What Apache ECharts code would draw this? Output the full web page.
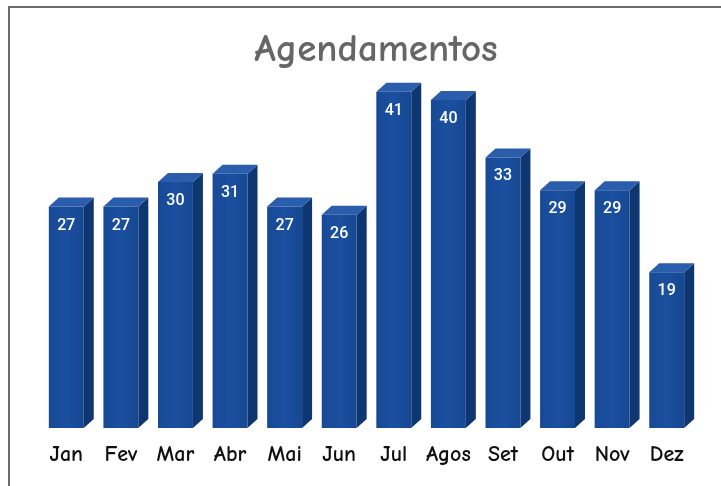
<!DOCTYPE html>
<html>
<head>
<meta charset="utf-8">
<script src="https://cdn.jsdelivr.net/npm/echarts@6/dist/echarts.min.js"></script>
<style>
  html, body { margin: 0; padding: 0; background: #fff; }
  #main { width: 721px; height: 486px; }
</style>
</head>
<body>
<div id="main"></div>
<script>
  // meses e valores
  const months = ['Jan', 'Fev', 'Mar', 'Abr', 'Mai', 'Jun', 'Jul', 'Agos', 'Set', 'Out', 'Nov', 'Dez'];
  const agendamentos = [27, 27, 30, 31, 27, 26, 41, 40, 33, 29, 29, 19];

  const chart = echarts.init(document.getElementById('main'));

  const DX = 10, DY = 9; // profundidade do efeito 3D
  const comic = '"Comic Sans MS", "Comic Neue", "DejaVu Sans", sans-serif';

  // desenha cada barra com frente, topo e lateral
  function renderBar(params, api) {
    const idx = api.value(0);
    const val = api.value(1);
    const top = api.coord([idx, val]);
    const base = api.coord([idx, 0]);
    const band = api.size([1, 0])[0];
    const w = band * 0.64;
    const x0 = top[0] - w / 2, x1 = top[0] + w / 2;
    const y0 = top[1], y1 = base[1];
    return {
      type: 'group',
      children: [
        {
          type: 'polygon',
          shape: { points: [[x1, y0], [x1 + DX, y0 - DY], [x1 + DX, y1 - DY], [x1, y1]] },
          style: { fill: '#0e3772' }
        },
        {
          type: 'polygon',
          shape: { points: [[x0, y0], [x0 + DX, y0 - DY], [x1 + DX, y0 - DY], [x1, y0]] },
          style: { fill: '#2a5dab' }
        },
        {
          type: 'rect',
          shape: { x: x0, y: y0, width: w, height: y1 - y0 },
          style: {
            fill: new echarts.graphic.LinearGradient(0, 0, 1, 0, [
              { offset: 0, color: '#174995' },
              { offset: 0.5, color: '#1b50a0' },
              { offset: 1, color: '#164791' }
            ])
          }
        },
        {
          type: 'text',
          x: top[0],
          y: y0 + 19,
          style: {
            text: String(val),
            fill: '#ffffff',
            font: '500 16px Roboto, sans-serif',
            align: 'center',
            verticalAlign: 'middle'
          }
        }
      ]
    };
  }

  const option = {
    backgroundColor: '#ffffff',
    animation: false,
    title: {
      text: 'Agendamentos',
      left: 371,
      textAlign: 'center',
      top: 25,
      textStyle: {
        fontFamily: comic,
        fontSize: 39,
        fontWeight: 'bold',
        color: '#666666'
      }
    },
    graphic: [{
      type: 'polyline',
      shape: { points: [[9, 486], [9, 7], [721, 7]] },
      style: { stroke: '#6b6b6b', lineWidth: 2, fill: null }
    }],
    grid: { left: 39, right: 27, top: 59, bottom: 58 },
    xAxis: {
      type: 'category',
      data: months,
      axisLine: { show: false },
      axisTick: { show: false },
      axisLabel: {
        interval: 0,
        margin: 16,
        color: '#111111',
        fontSize: 22,
        fontWeight: 'bold',
        fontFamily: comic
      }
    },
    yAxis: {
      type: 'value',
      min: 0,
      max: 45,
      show: false
    },
    series: [{
      type: 'custom',
      renderItem: renderBar,
      data: agendamentos.map((v, i) => [i, v]),
      encode: { x: 0, y: 1 }
    }]
  };

  chart.setOption(option);
</script>
</body>
</html>
